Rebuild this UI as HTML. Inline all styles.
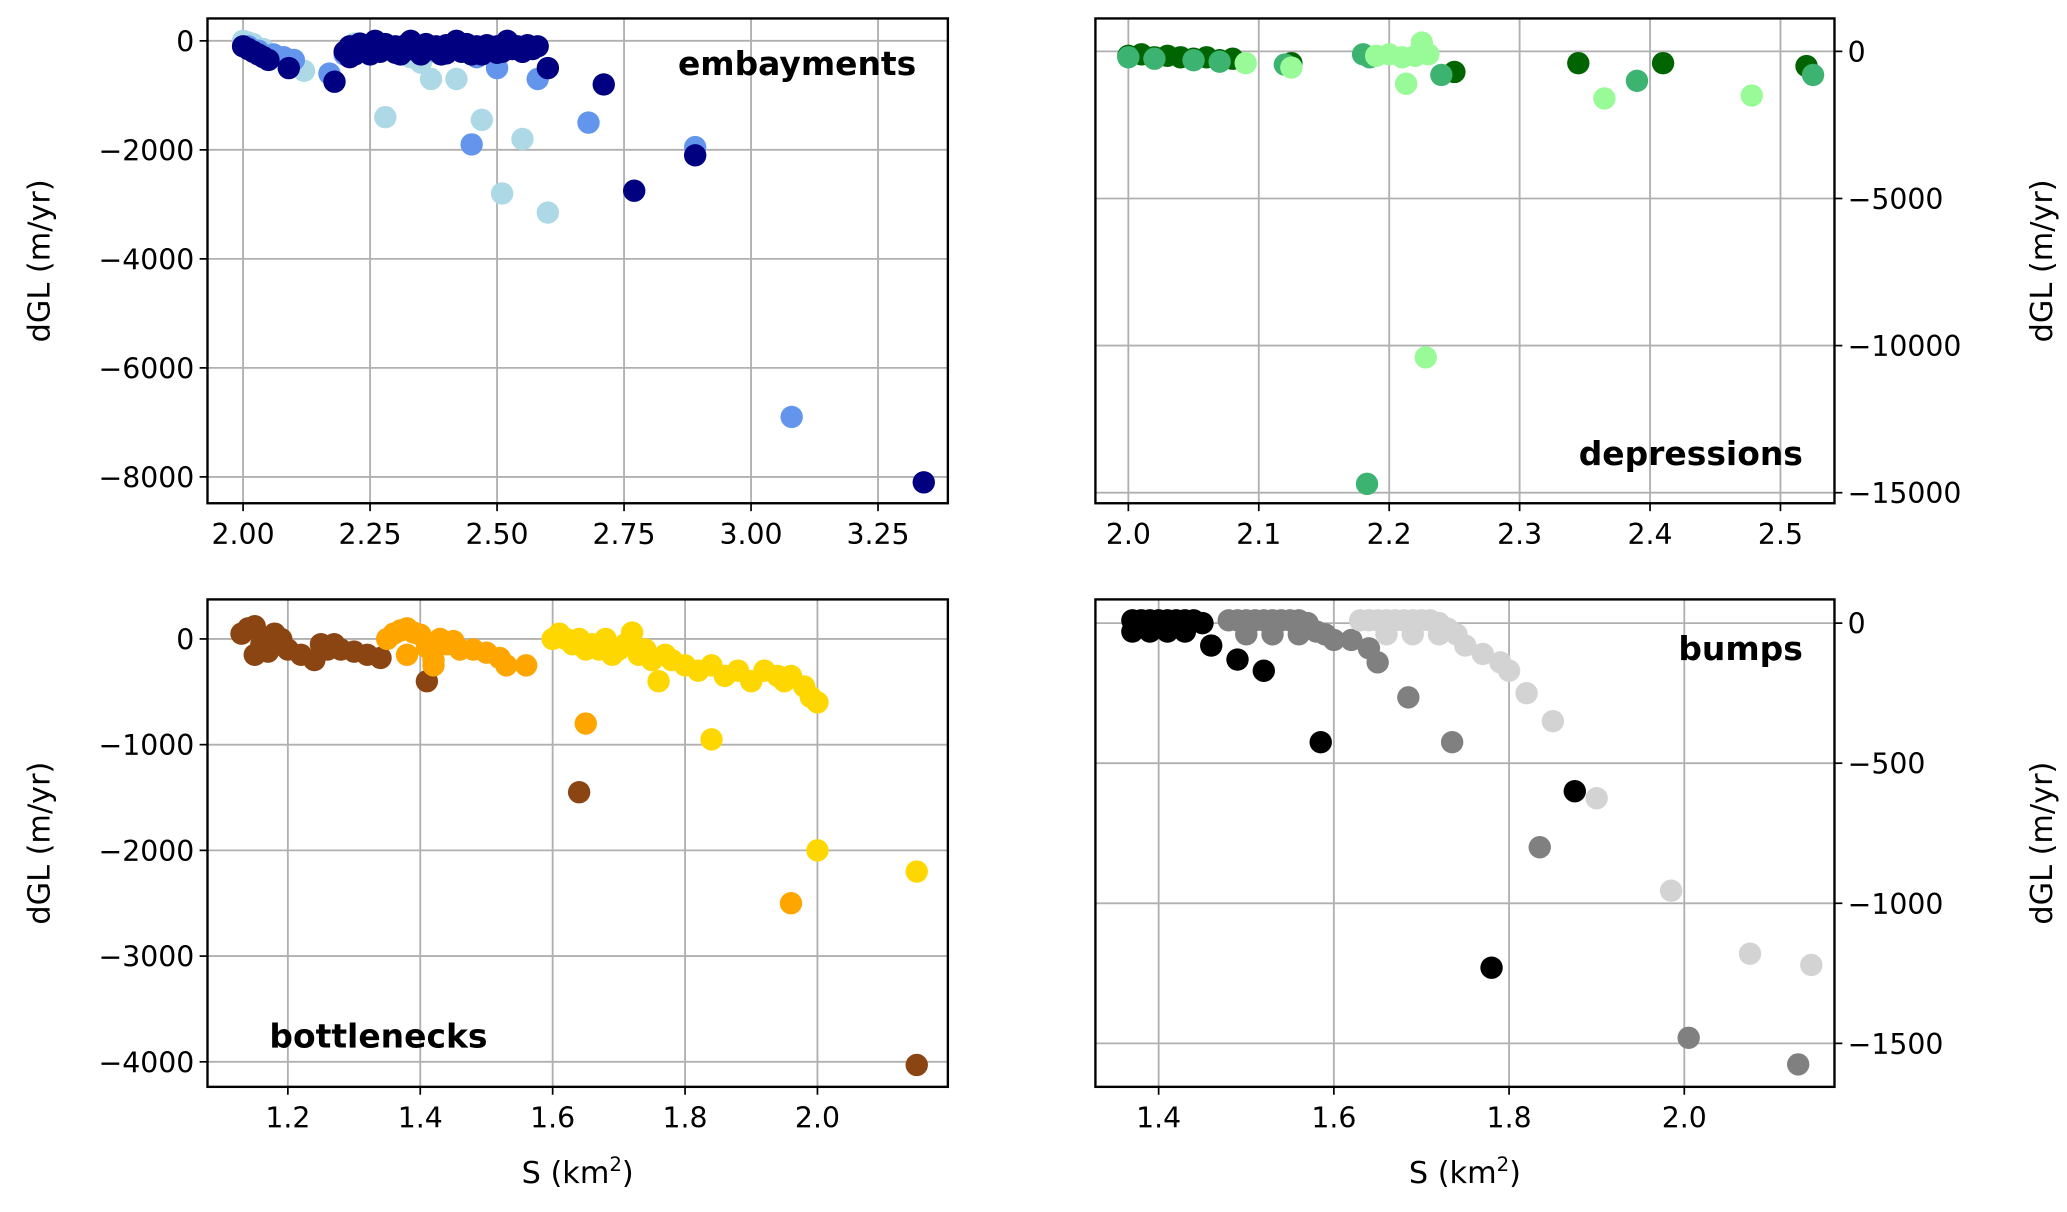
<!DOCTYPE html>
<html><head><meta charset="utf-8"><style>
html,body{margin:0;padding:0;background:#fff;}
svg{display:block;}
text{font-family:"DejaVu Sans","Liberation Sans",sans-serif;fill:#000;}
</style></head><body>
<svg id="fig" width="2067" height="1212" viewBox="0 0 1568 920" xmlns="http://www.w3.org/2000/svg"></svg>
<script>
// ---- Panel A: embayments ----
const embLightX=[2.0,2.01,2.02,2.04,2.06,2.12,2.28,2.3,2.33,2.35,2.37,2.42,2.47,2.51,2.55,2.6,2.22,2.26,2.4,2.45];
const embLightY=[0,-30,-60,-150,-250,-550,-1400,-120,-300,-400,-700,-700,-1450,-2800,-1800,-3150,-50,-80,-150,-100];
const embCornX=[2.01,2.03,2.06,2.08,2.1,2.17,2.2,2.32,2.38,2.45,2.46,2.5,2.58,2.68,2.89,3.08];
const embCornY=[-100,-180,-250,-300,-350,-600,-250,-150,-200,-1900,-300,-500,-700,-1500,-1950,-6900];
const embNavyX=[2.0,2.01,2.02,2.03,2.04,2.05,2.09,2.18,2.2,2.21,2.22,2.23,2.24,2.25,2.27,2.28,2.29,2.3,2.31,2.32,2.33,2.34,2.35,2.36,2.37,2.38,2.39,2.4,2.41,2.42,2.43,2.44,2.45,2.46,2.47,2.48,2.49,2.5,2.51,2.52,2.53,2.54,2.55,2.56,2.57,2.58,2.6,2.71,2.77,2.89,3.34,2.21,2.25,2.3,2.35,2.4,2.45,2.5,2.55,2.26,2.33,2.42,2.52];
const embNavyY=[-100,-150,-200,-250,-300,-350,-500,-750,-200,-100,-250,-50,-150,-100,-200,-60,-150,-100,-250,-80,-150,-100,-200,-60,-150,-100,-250,-80,-150,-100,-200,-60,-150,-100,-250,-80,-150,-100,-200,-60,-150,-100,-200,-80,-150,-100,-500,-800,-2750,-2100,-8100,-300,-250,-220,-250,-230,-250,-220,-200,0,0,0,0];
const embXTicks=[2.0,2.25,2.5,2.75,3.0,3.25];
const embXLabels=["2.00","2.25","2.50","2.75","3.00","3.25"];
const embYTicks=[0,-2000,-4000,-6000,-8000];
const embYLabels=["0","\u22122000","\u22124000","\u22126000","\u22128000"];
// ---- Panel B: depressions ----
const depDarkX=[2.0,2.01,2.02,2.03,2.04,2.05,2.06,2.07,2.08,2.125,2.25,2.345,2.41,2.52];
const depDarkY=[-150,-100,-200,-150,-200,-250,-200,-300,-250,-400,-700,-400,-400,-500];
const depSeaX=[2.0,2.02,2.05,2.07,2.12,2.18,2.185,2.24,2.39,2.525,2.183];
const depSeaY=[-200,-250,-300,-350,-450,-100,-200,-800,-1000,-800,-14700];
const depPaleX=[2.09,2.125,2.19,2.2,2.21,2.22,2.23,2.213,2.225,2.228,2.365,2.478];
const depPaleY=[-400,-550,-150,-100,-200,-150,-100,-1100,300,-10400,-1600,-1500];
const depXTicks=[2.0,2.1,2.2,2.3,2.4,2.5];
const depXLabels=["2.0","2.1","2.2","2.3","2.4","2.5"];
const depYTicks=[0,-5000,-10000,-15000];
const depYLabels=["0","\u22125000","\u221210000","\u221215000"];
// ---- Panel C: bottlenecks ----
const botBrownX=[1.13,1.14,1.15,1.16,1.17,1.18,1.19,1.2,1.22,1.24,1.25,1.26,1.27,1.28,1.3,1.32,1.34,1.15,1.17,1.41,1.64,2.15];
const botBrownY=[50,100,120,-50,-100,50,0,-100,-150,-200,-50,-100,-50,-100,-120,-150,-180,-150,-120,-400,-1450,-4030];
const botOrangeX=[1.35,1.36,1.37,1.38,1.39,1.4,1.41,1.42,1.43,1.44,1.45,1.46,1.48,1.5,1.52,1.53,1.56,1.38,1.42,1.65,1.96];
const botOrangeY=[0,50,80,100,60,40,-80,-250,0,-50,-20,-100,-100,-130,-180,-250,-250,-150,-200,-800,-2500];
const botGoldX=[1.6,1.61,1.62,1.63,1.64,1.65,1.66,1.67,1.68,1.69,1.7,1.71,1.72,1.73,1.74,1.75,1.76,1.77,1.78,1.8,1.82,1.84,1.86,1.88,1.9,1.92,1.94,1.95,1.96,1.98,1.99,2.0,1.84,2.0,2.15];
const botGoldY=[0,50,0,-50,0,-100,-50,-100,0,-150,-100,-50,60,-150,-100,-200,-400,-150,-200,-250,-300,-250,-350,-300,-400,-300,-350,-400,-350,-450,-550,-600,-950,-2000,-2200];
const botXTicks=[1.2,1.4,1.6,1.8,2.0];
const botXLabels=["1.2","1.4","1.6","1.8","2.0"];
const botYTicks=[0,-1000,-2000,-3000,-4000];
const botYLabels=["0","\u22121000","\u22122000","\u22123000","\u22124000"];
// ---- Panel D: bumps ----
const bumBlackX=[1.37,1.38,1.39,1.4,1.41,1.42,1.43,1.44,1.45,1.37,1.39,1.41,1.43,1.46,1.49,1.52,1.585,1.875,1.78];
const bumBlackY=[10,10,10,10,10,10,10,10,0,-30,-30,-30,-30,-80,-130,-170,-425,-600,-1230];
const bumGrayX=[1.48,1.49,1.5,1.51,1.52,1.53,1.54,1.55,1.56,1.57,1.58,1.59,1.6,1.5,1.53,1.56,1.59,1.62,1.64,1.65,1.685,1.735,1.835,2.005,2.13];
const bumGrayY=[10,10,10,10,10,10,10,10,10,0,-30,-40,-60,-40,-40,-40,-40,-60,-90,-140,-265,-425,-800,-1480,-1575];
const bumLightX=[1.63,1.64,1.65,1.66,1.67,1.68,1.69,1.7,1.71,1.72,1.73,1.74,1.66,1.69,1.72,1.75,1.77,1.79,1.8,1.82,1.85,1.9,1.985,2.075,2.145];
const bumLightY=[10,10,10,10,10,10,10,10,10,0,-20,-40,-40,-40,-40,-80,-110,-140,-170,-250,-350,-625,-955,-1180,-1220];
const bumXTicks=[1.4,1.6,1.8,2.0];
const bumXLabels=["1.4","1.6","1.8","2.0"];
const bumYTicks=[0,-500,-1000,-1500];
const bumYLabels=["0","\u2212500","\u22121000","\u22121500"];

const NS="http://www.w3.org/2000/svg";
const svg=document.getElementById('fig');
function mk(tag,attrs,parent){const e=document.createElementNS(NS,tag);for(const k in attrs)e.setAttribute(k,attrs[k]);(parent||svg).appendChild(e);return e;}
function lin(d0,d1,r0,r1){return v=>r0+(v-d0)*(r1-r0)/(d1-d0);}

function panel(cfg){
  const g=mk('g',{});
  
  
  const sx=lin(cfg.xd[0],cfg.xd[1],cfg.xr[0],cfg.xr[1]);
  const sy=lin(cfg.yd[0],cfg.yd[1],cfg.yr[0],cfg.yr[1]);
  const b=cfg.box;
  mk('rect',{x:b[0],y:b[1],width:b[2]-b[0],height:b[3]-b[1],fill:'#fff'},g);
  cfg.xt.forEach((t,i)=>{
    const x=sx(t);
    const gl=mk('line',{x1:x,x2:x,y1:b[1],y2:b[3],stroke:'#b0b0b0','stroke-width':1.4},g);
    
    
    mk('line',{x1:x,x2:x,y1:b[3],y2:b[3]+6,stroke:'#000','stroke-width':1.3},g);
    const tx=mk('text',{x:x,y:b[3]+31,'text-anchor':'middle','font-size':21.5},g);
    tx.textContent=cfg.xl[i];
    
    
  });
  cfg.yt.forEach((t,i)=>{
    const y=sy(t);
    const gl=mk('line',{x1:b[0],x2:b[2],y1:y,y2:y,stroke:'#b0b0b0','stroke-width':1.4},g);
    
    
    let tx;
    if(cfg.right){
      mk('line',{x1:b[2],x2:b[2]+6,y1:y,y2:y,stroke:'#000','stroke-width':1.3},g);
      tx=mk('text',{x:b[2]+10,y:y+8,'text-anchor':'start','font-size':21.5},g);
    }else{
      mk('line',{x1:b[0]-6,x2:b[0],y1:y,y2:y,stroke:'#000','stroke-width':1.3},g);
      tx=mk('text',{x:b[0]-10,y:y+8,'text-anchor':'end','font-size':21.5},g);
    }
    tx.textContent=cfg.yl[i];
    
    
  });
  cfg.series.forEach(s=>{
    s.x.forEach((xv,i)=>{
      const c=mk('circle',{cx:sx(xv),cy:sy(s.y[i]),r:8.5,fill:s.color},g);
      
      
    });
  });
  mk('rect',{x:b[0],y:b[1],width:b[2]-b[0],height:b[3]-b[1],fill:'none',stroke:'#000','stroke-width':1.8},g);
  const lab=mk('text',{x:cfg.lab[0],y:cfg.lab[1],'text-anchor':cfg.lab[2],'font-size':25,'font-weight':'bold'},g);
  lab.textContent=cfg.name;
  
  
  const cx=cfg.right?b[2]+165:b[0]-120, cy=(b[1]+b[3])/2;
  const yt=mk('text',{x:cx,y:cy,'text-anchor':'middle','font-size':23,transform:`rotate(-90 ${cx} ${cy})`},g);
  yt.textContent='dGL (m/yr)';
  
  
  if(cfg.xtitle){
    const xt=mk('text',{x:(b[0]+b[2])/2,y:b[3]+73,'text-anchor':'middle','font-size':23},g);
    xt.innerHTML='S (km<tspan dy="-9" font-size="15">2</tspan><tspan dy="9">)</tspan>';
    
    
  }
}

panel({name:'embayments',box:[157,14,719,382],xd:[2.0,3.25],xr:[184,666],yd:[0,-8000],yr:[31,362],
  xt:embXTicks,xl:embXLabels,yt:embYTicks,yl:embYLabels,lab:[695,57,'end'],
  series:[{x:embLightX,y:embLightY,color:'#add8e6'},{x:embCornX,y:embCornY,color:'#6495ed'},{x:embNavyX,y:embNavyY,color:'#000080'}]});
panel({name:'depressions',box:[831,14,1392,382],right:true,xd:[2.0,2.5],xr:[856,1351],yd:[0,-15000],yr:[39,374],
  xt:depXTicks,xl:depXLabels,yt:depYTicks,yl:depYLabels,lab:[1368,353,'end'],
  series:[{x:depDarkX,y:depDarkY,color:'#006400'},{x:depSeaX,y:depSeaY,color:'#3cb371'},{x:depPaleX,y:depPaleY,color:'#98fb98'}]});
panel({name:'bottlenecks',box:[157,455,719,825],xtitle:true,xd:[1.2,2.0],xr:[218,620],yd:[0,-4000],yr:[485,806],
  xt:botXTicks,xl:botXLabels,yt:botYTicks,yl:botYLabels,lab:[204,795,'start'],
  series:[{x:botBrownX,y:botBrownY,color:'#8b4513'},{x:botOrangeX,y:botOrangeY,color:'#ffa500'},{x:botGoldX,y:botGoldY,color:'#ffd700'}]});
panel({name:'bumps',box:[831,455,1392,825],right:true,xtitle:true,xd:[1.4,2.0],xr:[879,1278],yd:[0,-1500],yr:[473,792],
  xt:bumXTicks,xl:bumXLabels,yt:bumYTicks,yl:bumYLabels,lab:[1368,501,'end'],
  series:[{x:bumBlackX,y:bumBlackY,color:'#000000'},{x:bumGrayX,y:bumGrayY,color:'#808080'},{x:bumLightX,y:bumLightY,color:'#d3d3d3'}]});
</script>
</body></html>
